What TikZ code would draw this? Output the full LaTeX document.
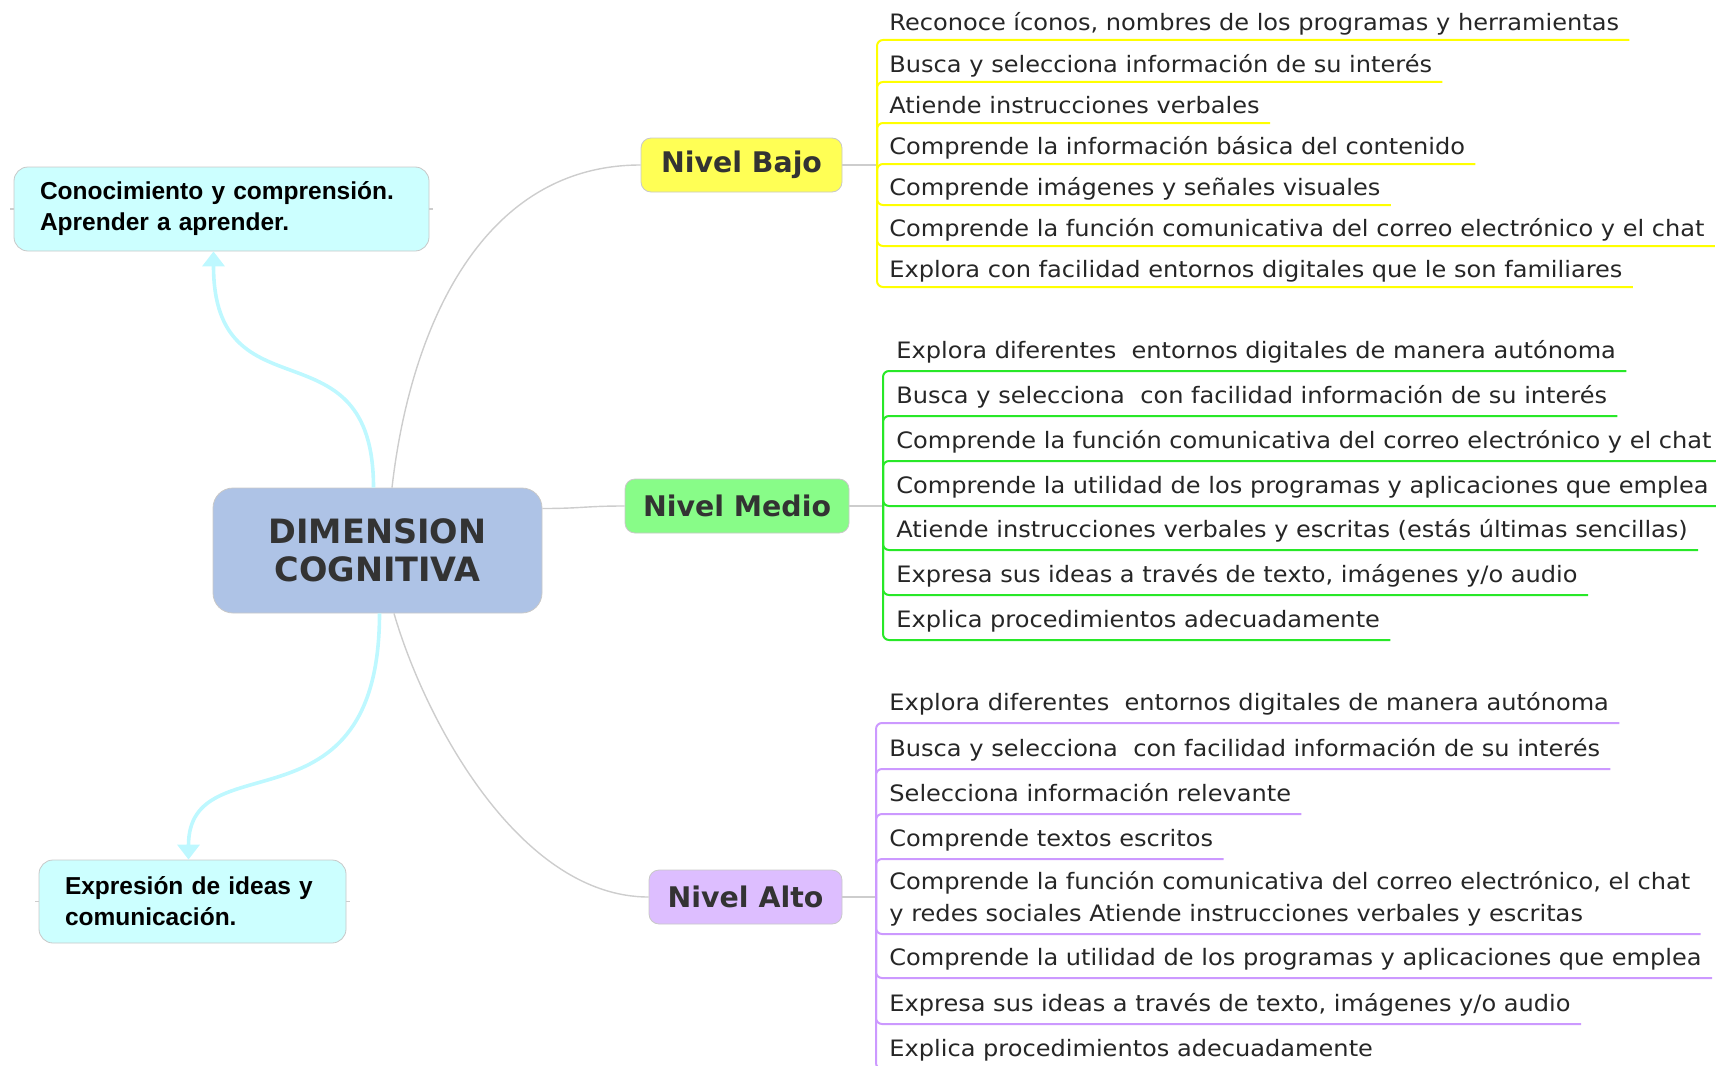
\documentclass[tikz,border=0pt]{standalone}
\usepackage{fontspec}
\setmainfont{DejaVu Sans}
\newfontfamily\arialfont{Liberation Sans}
\newfontfamily\itemfont{DejaVu Sans}[FakeStretch=1.065]
\usetikzlibrary{arrows.meta}

\definecolor{azulcentro}{RGB}{174,195,230}
\definecolor{cian}{RGB}{204,255,255}
\definecolor{cianflecha}{RGB}{190,248,255}
\definecolor{amarillo}{RGB}{255,255,85}
\definecolor{lineaamarilla}{RGB}{255,255,0}
\definecolor{verde}{RGB}{136,252,136}
\definecolor{lineaverde}{RGB}{40,232,40}
\definecolor{lila}{RGB}{221,190,255}
\definecolor{linealila}{RGB}{204,153,255}
\definecolor{borde}{RGB}{200,200,200}
\definecolor{gris}{RGB}{205,205,205}
\definecolor{texto}{RGB}{51,51,51}

\begin{document}
\begin{tikzpicture}[x=0.5pt, y=-0.5pt, % coordenadas en pixeles, y hacia abajo
    nivel/.style={draw=borde, rounded corners=5pt, minimum height=27pt,
        font=\fontsize{14.2}{17}\selectfont\bfseries, text=texto},
    lateral/.style={draw=borde, fill=cian, rounded corners=7pt, align=left,
        inner xsep=13pt, font=\arialfont\fontsize{12.25}{15.5}\selectfont\bfseries},
    rama/.style={draw=gris, line width=0.7pt},
    flecha/.style={draw=cianflecha, line width=1.8pt,
        -{Triangle[width=11pt,length=7.5pt,fill=cianflecha]}},
    item/.style={anchor=south west, inner xsep=5pt, inner ysep=3.5pt, text depth=2.5pt,
        align=left, font=\itemfont\fontsize{11.3}{16}\selectfont, text=black!85},
    subrama/.style={line width=1pt, rounded corners=3pt}]

\useasboundingbox (0,0) rectangle (1716,1065);
\clip (0,0) rectangle (1716,1065);

\node[draw=borde, fill=azulcentro, rounded corners=10pt, minimum width=164.5pt,
    minimum height=62.5pt, align=center, text=texto,
    font=\fontsize{16.75}{19}\selectfont\bfseries] (centro) at (377.5,550.5)
    {DIMENSION\\COGNITIVA};

\node[nivel, fill=amarillo, minimum width=100.5pt] (bajo) at (741.5,165) {Nivel Bajo};
\node[nivel, fill=verde, minimum width=112pt] (medio) at (737,506) {Nivel Medio};
\node[nivel, fill=lila, minimum width=96.5pt] (alto) at (745.5,897) {Nivel Alto};

\node[lateral, minimum height=42pt, text width=181.5pt] (conoc) at (221.5,209)
    {Conocimiento y comprensión.\\Aprender a aprender.};
\node[lateral, minimum height=41.5pt, text width=127.5pt] (expr) at (192.5,901.5)
    {Expresión de ideas y\\comunicación.};

% ramas principales
\draw[rama] ([xshift=7.25pt]centro.north) .. controls +(18,-158) and +(-160,0) .. (bajo.west);
\draw[rama] ([yshift=21pt]centro.east) .. controls +(40,0) and +(-40,0) .. (medio.west);
\draw[rama] ([xshift=8.25pt]centro.south) .. controls +(31,107) and +(-129,0) .. (alto.west);

\draw[flecha] ([xshift=-2pt]centro.north) .. controls +(0,-170) and +(0,170) .. ([xshift=-4pt]conoc.south);
\draw[flecha] ([xshift=1pt]centro.south) .. controls +(0,227) and +(0,-120) .. ([xshift=-2pt]expr.north);

\draw[rama] (conoc.west) -- +(-4,0);
\draw[rama] (conoc.east) -- +(4,0);
\draw[rama] (expr.west) -- +(-4,0);
\draw[rama] (expr.east) -- +(4,0);

% Nivel Bajo
\coordinate (jb) at (877,165);
\draw[rama] (bajo.east) -- (jb);
\foreach \y/\txt [count=\i] in {
    40/{Reconoce íconos, nombres de los programas y herramientas},
    82/{Busca y selecciona información de su interés},
    123/{Atiende instrucciones verbales},
    164/{Comprende la información básica del contenido},
    205/{Comprende imágenes y señales visuales},
    246/{Comprende la función comunicativa del correo electrónico y el chat},
    287/{Explora con facilidad entornos digitales que le son familiares}}{
  \node[item, inner ysep=2pt] (b\i) at (879,\y) {\txt};
  \draw[subrama, lineaamarilla] (jb) |- (b\i.south east);
}

% Nivel Medio
\coordinate (jm) at (883,506);
\draw[rama] (medio.east) -- (jm);
\foreach \y/\txt [count=\i] in {
    371/{Explora diferentes\ \ entornos digitales de manera autónoma},
    416/{Busca y selecciona\ \ con facilidad información de su interés},
    461/{Comprende la función comunicativa del correo electrónico y el chat},
    506/{Comprende la utilidad de los programas y aplicaciones que emplea},
    550/{Atiende instrucciones verbales y escritas (estás últimas sencillas)},
    595/{Expresa sus ideas a través de texto, imágenes y/o audio},
    640/{Explica procedimientos adecuadamente}}{
  \node[item] (m\i) at (886,\y) {\txt};
  \draw[subrama, lineaverde] (jm) |- (m\i.south east);
}

% Nivel Alto
\coordinate (ja) at (876,897);
\draw[rama] (alto.east) -- (ja);
\foreach \y/\txt [count=\i] in {
    723/{Explora diferentes\ \ entornos digitales de manera autónoma},
    769/{Busca y selecciona\ \ con facilidad información de su interés},
    814/{Selecciona información relevante},
    859/{Comprende textos escritos},
    934/{Comprende la función comunicativa del correo electrónico, el chat\\y redes sociales Atiende instrucciones verbales y escritas},
    978/{Comprende la utilidad de los programas y aplicaciones que emplea},
    1024/{Expresa sus ideas a través de texto, imágenes y/o audio},
    1069/{Explica procedimientos adecuadamente}}{
  \node[item] (a\i) at (879,\y) {\txt};
  \draw[subrama, linealila] (ja) |- (a\i.south east);
}
\end{tikzpicture}
\end{document}
